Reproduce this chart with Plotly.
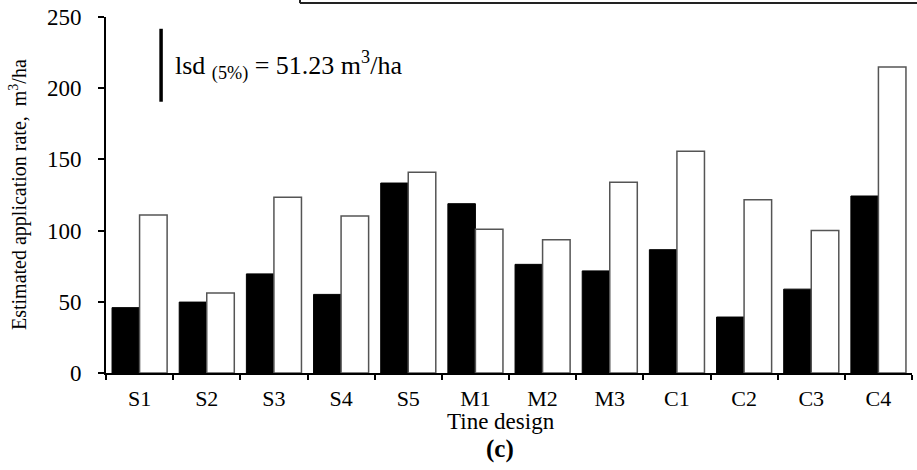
import plotly.graph_objects as go

categories = ["S1", "S2", "S3", "S4", "S5", "M1", "M2", "M3", "C1", "C2", "C3", "C4"]
series_black = [45.9, 49.8, 69.6, 55.2, 133.4, 118.9, 76.3, 71.7, 86.6, 39.3, 58.9, 124.3]
series_white = [111.0, 56.1, 123.4, 110.3, 141.0, 101.0, 93.6, 134.0, 155.7, 121.7, 100.1, 214.9]
y_ticks = [0, 50, 100, 150, 200, 250]
lsd_value = 51.23
lsd_base = 190.5

FONT = "Liberation Serif, Times New Roman, serif"

fig = go.Figure()
fig.add_trace(go.Bar(x=categories, y=series_black, marker=dict(color="black", line=dict(color="black", width=1)),
                     showlegend=False))
fig.add_trace(go.Bar(x=categories, y=series_white, marker=dict(color="white", line=dict(color="#555555", width=1.5)),
                     showlegend=False))

fig.update_layout(
    width=917, height=470,
    margin=dict(l=106, r=5, t=15, b=97),
    plot_bgcolor="white", paper_bgcolor="white",
    barmode="group", bargap=0.18, bargroupgap=0,
    font=dict(family=FONT, color="black", size=22),
    xaxis=dict(showline=True, linecolor="black", linewidth=2, ticks="outside", ticklen=5,
               tickwidth=1.5, tickcolor="black", tickson="boundaries", showgrid=False,
               tickfont=dict(size=22), zeroline=False, ticklabelstandoff=5),
    yaxis=dict(range=[0, 250], tickvals=y_ticks, showline=True, linecolor="black", linewidth=2,
               ticks="outside", ticklen=6, tickwidth=1.5, tickcolor="black", showgrid=False,
               zeroline=False, tickfont=dict(size=23), ticklabelstandoff=12),
)

# lsd bar
fig.add_shape(type="line", xref="x", yref="y", x0=0.32, x1=0.32, y0=lsd_base, y1=lsd_base + lsd_value,
              line=dict(color="black", width=3.5))
fig.add_annotation(xref="x", yref="y", x=0.5, y=lsd_base + lsd_value / 2, xanchor="left", yanchor="middle",
                   showarrow=False,
                   text="lsd <sub>(5%)</sub> = " + f"{lsd_value:.2f}" + " m<sup>3</sup>/ha", font=dict(size=26))

# axis titles
fig.add_annotation(xref="paper", yref="paper", x=0, xshift=-88, y=0.5, textangle=-90,
                   showarrow=False, xanchor="center", yanchor="middle",
                   text="Estimated application rate,  m<sup>3</sup>/ha", font=dict(size=20))
fig.add_annotation(xref="paper", yref="paper", x=0.5, xshift=-8, y=0, yshift=-48, showarrow=False,
                   xanchor="center", yanchor="middle", text="Tine design", font=dict(size=23))
fig.add_annotation(xref="paper", yref="paper", x=0.5, xshift=-9, y=0, yshift=-76, showarrow=False,
                   xanchor="center", yanchor="middle", text="<b>(c)</b>", font=dict(size=25))

# partial legend box border at top
fig.add_shape(type="line", xref="paper", yref="paper", x0=0.2407, x1=1.01, y0=1.039, y1=1.039,
              line=dict(color="#222222", width=2))
fig.add_shape(type="line", xref="paper", yref="paper", x0=0.2407, x1=0.2407, y0=1.039, y1=1.06,
              line=dict(color="#222222", width=2))

fig.write_html("out.html")
